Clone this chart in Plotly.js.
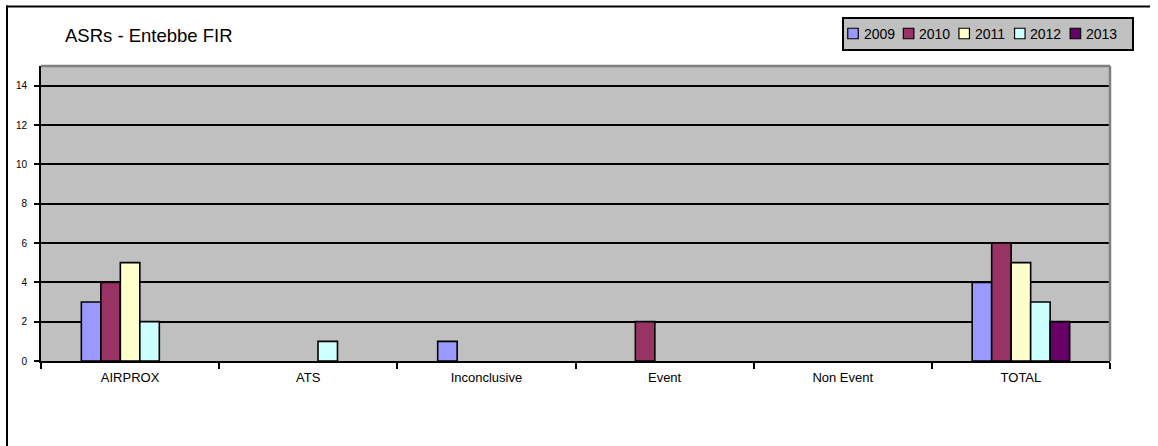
<!DOCTYPE html>
<html>
<head>
<meta charset="utf-8">
<script src="https://cdn.plot.ly/plotly-3.0.1.min.js"></script>
<style>
  html, body { margin: 0; padding: 0; background: #ffffff; }
  #chart { width: 1158px; height: 446px; }
</style>
</head>
<body>
<div id="chart"></div>
<script>
// Outcome categories of the ASRs, one group of bars per category
const categories = ['AIRPROX', 'ATS', 'Inconclusive', 'Event', 'Non Event', 'TOTAL'];

// Series names and counts per year
const years = ['2009', '2010', '2011', '2012', '2013'];
const counts2009 = [3, 0, 1, 0, 0, 4];
const counts2010 = [4, 0, 0, 2, 0, 6];
const counts2011 = [5, 0, 0, 0, 0, 5];
const counts2012 = [2, 1, 0, 0, 0, 3];
const counts2013 = [0, 0, 0, 0, 0, 2];
const yearColors = ['#9999FF', '#993366', '#FFFFCC', '#CCFFFF', '#660066'];

// Y axis tick values
const yTicks = [0, 2, 4, 6, 8, 10, 12, 14];

const W = 1158, H = 446;
const M = { l: 41, r: 48, t: 66, b: 85 };
const FONT = 'Liberation Sans, Arial, Helvetica, sans-serif';

// pixel -> paper coordinates, for the frame and the legend box
const plotW = W - M.l - M.r, plotH = H - M.t - M.b;
const px = v => (v - M.l) / plotW;
const py = v => (H - M.b - v) / plotH;

const series = [counts2009, counts2010, counts2011, counts2012, counts2013];
const traces = series.map((vals, i) => ({
  type: 'bar',
  name: years[i],
  x: categories,
  y: vals,
  marker: {
    color: yearColors[i],
    // empty bars get no outline, so nothing shows along the zero line
    line: { color: '#000000', width: vals.map(v => (v ? 1.6 : 0)) }
  },
  hoverinfo: 'x+y+name'
}));

const shapes = [];
const annotations = [];

// page frame: left and top edges
shapes.push({ type: 'line', xref: 'paper', yref: 'paper', x0: px(7), x1: px(7), y0: py(5.5), y1: py(H + 2),
  line: { color: '#000000', width: 2 } });
shapes.push({ type: 'line', xref: 'paper', yref: 'paper', x0: px(6), x1: px(1150), y0: py(6.5), y1: py(6.5),
  line: { color: '#000000', width: 2 } });

// grey top and right edges of the plot area
shapes.push({ type: 'line', xref: 'paper', yref: 'paper', x0: 0, x1: 1, y0: 1, y1: 1,
  line: { color: '#808080', width: 2.5 } });
shapes.push({ type: 'line', xref: 'paper', yref: 'paper', x0: 1, x1: 1, y0: 0, y1: 1,
  line: { color: '#808080', width: 2.5 } });

// legend box
const legL = 843, legR = 1133, legT = 18, legB = 50, legMid = 33.5;
shapes.push({ type: 'rect', xref: 'paper', yref: 'paper', x0: px(legL), x1: px(legR), y0: py(legB), y1: py(legT),
  fillcolor: '#C0C0C0', line: { color: '#000000', width: 2 } });
const legStep = 55.6, swatch = 10.5;
years.forEach((yr, i) => {
  const cx = 853 + legStep * i;
  shapes.push({ type: 'rect', xref: 'paper', yref: 'paper',
    x0: px(cx - swatch / 2), x1: px(cx + swatch / 2), y0: py(legMid + swatch / 2), y1: py(legMid - swatch / 2),
    fillcolor: yearColors[i], line: { color: '#000000', width: 1.2 } });
  annotations.push({ xref: 'paper', yref: 'paper', x: px(cx + 8.5), y: py(legMid), xanchor: 'left', yanchor: 'middle',
    text: yr, showarrow: false, font: { family: FONT, size: 14, color: '#000000' } });
});

const layout = {
  width: W, height: H,
  margin: M,
  paper_bgcolor: 'rgba(0,0,0,0)',
  plot_bgcolor: '#C0C0C0',
  showlegend: false,
  barmode: 'group',
  bargap: 0.453,
  bargroupgap: 0,
  font: { family: FONT, color: '#000000' },
  title: {
    text: 'ASRs - Entebbe FIR',
    xref: 'container', yref: 'container',
    x: 65 / W, y: 1 - 36 / H, xanchor: 'left', yanchor: 'middle',
    font: { family: FONT, size: 18.5, color: '#000000' }
  },
  xaxis: {
    type: 'category',
    tickson: 'boundaries',
    ticks: 'outside', ticklen: 6, tickwidth: 2, tickcolor: '#000000',
    ticklabelstandoff: 3,
    showline: true, linecolor: '#000000', linewidth: 2,
    showgrid: false, zeroline: false,
    tickfont: { family: FONT, size: 13, color: '#000000' }
  },
  yaxis: {
    range: [0, 15],
    tickmode: 'array', tickvals: yTicks, ticktext: yTicks.map(String),
    ticks: 'outside', ticklen: 5, tickwidth: 2, tickcolor: '#000000',
    ticklabelstandoff: 5,
    showline: true, linecolor: '#000000', linewidth: 2,
    showgrid: true, gridcolor: '#000000', gridwidth: 2,
    zeroline: false,
    tickfont: { family: FONT, size: 10, color: '#000000' }
  },
  shapes: shapes,
  annotations: annotations
};

Plotly.newPlot('chart', traces, layout, { displayModeBar: false, staticPlot: true });
</script>
</body>
</html>
